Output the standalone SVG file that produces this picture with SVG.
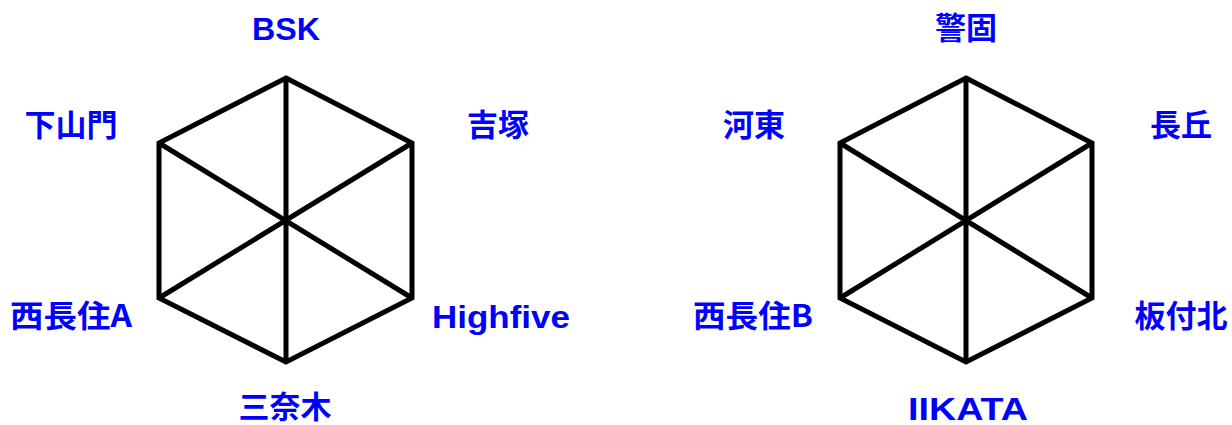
<svg xmlns="http://www.w3.org/2000/svg" width="1232" height="425" viewBox="0 0 1232 425">
<style>
.e{fill:none;stroke:#000;stroke-width:5;stroke-linejoin:miter}
.l{fill:#0000ff;font-family:"Noto Sans CJK JP","Liberation Sans",sans-serif;font-weight:bold;font-size:31px;text-anchor:middle}
.a{font-family:"Liberation Sans","Noto Sans CJK JP",sans-serif;font-weight:bold}
</style>
<rect width="1232" height="425" fill="#fff"/>
<g id="connectors">
<polygon class="e" points="286,78 412,143 412,298 286,362 159,298 159,143"/>
<line class="e" x1="286" y1="78" x2="286" y2="362"/>
<line class="e" x1="412" y1="143" x2="159" y2="298"/>
<line class="e" x1="159" y1="143" x2="412" y2="298"/>
<polygon class="e" points="966,78 1092,143 1092,298 966,362 840,298 840,143"/>
<line class="e" x1="966" y1="78" x2="966" y2="362"/>
<line class="e" x1="1092" y1="143" x2="840" y2="298"/>
<line class="e" x1="840" y1="143" x2="1092" y2="298"/>
</g>
<g id="n-bsk"><text class="l a" x="286" y="40" textLength="68" lengthAdjust="spacingAndGlyphs">BSK</text></g>
<g id="n-shimoyamato"><text class="l" x="71" y="136">下山門</text></g>
<g id="n-yoshizuka"><text class="l" x="498" y="136">吉塚</text></g>
<g id="n-nishinagazumiA"><text class="l" x="71" y="327" textLength="122" lengthAdjust="spacingAndGlyphs">西長住A</text></g>
<g id="n-highfive"><text class="l a" x="501" y="328" textLength="138" lengthAdjust="spacingAndGlyphs">Highfive</text></g>
<g id="n-minagi"><text class="l" x="285" y="418">三奈木</text></g>
<g id="n-kego"><text class="l" x="966" y="39">警固</text></g>
<g id="n-kato"><text class="l" x="754" y="136">河東</text></g>
<g id="n-nagaoka"><text class="l" x="1181" y="136">長丘</text></g>
<g id="n-nishinagazumiB"><text class="l" x="753" y="327" textLength="120" lengthAdjust="spacingAndGlyphs">西長住B</text></g>
<g id="n-itazukekita"><text class="l" x="1181" y="327">板付北</text></g>
<g id="n-iikata"><text class="l a" x="968" y="420" textLength="120" lengthAdjust="spacingAndGlyphs">IIKATA</text></g>
</svg>
